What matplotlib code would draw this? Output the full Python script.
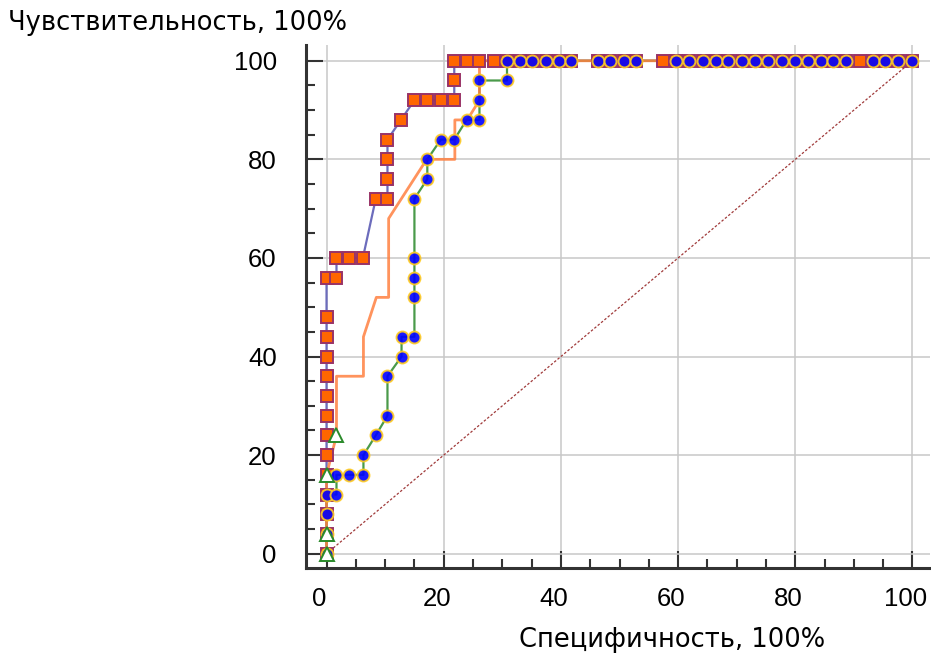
import matplotlib
matplotlib.use("Agg")
import matplotlib.pyplot as plt
from matplotlib.ticker import MultipleLocator
from matplotlib.transforms import ScaledTranslation

plt.rcParams['font.family'] = ['Liberation Sans', 'DejaVu Sans']

# ---- data (specificity, sensitivity; %) ----
# Series A: orange squares, slate-blue line
a_spec = [0, 0, 0, 0, 0, 0, 0, 0, 0, 0, 0, 0, 0, 0, 1.7, 1.7, 3.9, 6.2, 8.4, 10.4,
          10.4, 10.4, 10.4, 12.7, 15.0, 17.2, 19.5, 21.8, 21.8,
          21.8, 23.9, 26.1, 28.5, 30.8, 33.0, 35.1, 37.4, 39.7, 41.8, 46.3, 48.4,
          50.7, 52.8, 57.4, 59.7, 61.9, 64.2, 66.5, 68.6, 70.9, 73.2, 75.3, 77.7,
          80.0, 82.2, 84.4, 86.4, 88.7, 91.0, 93.2, 95.3, 97.6, 100.0]
a_sens = [0, 4, 8, 12, 16, 20, 24, 28, 32, 36, 40, 44, 48, 56, 56, 60, 60, 60, 72, 72,
          76, 80, 84, 88, 92, 92, 92, 92, 96,
          100, 100, 100, 100, 100, 100, 100, 100, 100, 100, 100, 100,
          100, 100, 100, 100, 100, 100, 100, 100, 100, 100, 100, 100,
          100, 100, 100, 100, 100, 100, 100, 100, 100, 100]

# Series B: orange line
b_spec = [0, 0, 1.7, 1.7, 6.3, 6.3, 8.5, 10.6, 10.6, 17.1, 21.9, 21.9, 24.0, 26.1, 26.1, 100.0]
b_sens = [0, 16, 24, 36, 36, 44, 52, 52, 68, 80, 80, 88, 88, 92, 100, 100]

# Series C: blue circles, green line
c_spec = [0, 0, 0, 0, 1.7, 1.7, 3.9, 6.3, 6.3, 8.4, 10.4, 10.4, 12.8, 12.8, 15.0,
          15.0, 15.0, 15.0, 15.0, 17.2, 17.2, 19.5, 21.8, 23.9, 26.1, 26.1, 26.1,
          30.8, 30.8, 33.0, 35.1, 37.4, 39.7, 41.8, 46.3, 48.4, 50.7, 52.8, 59.7,
          61.9, 64.2, 66.5, 68.6, 70.9, 73.2, 75.3, 77.7, 80.0, 82.2, 84.4, 86.4,
          88.7, 93.2, 95.3, 97.6, 100.0]
c_sens = [0, 4, 8, 12, 12, 16, 16, 16, 20, 24, 28, 36, 40, 44, 44,
          52, 56, 60, 72, 76, 80, 84, 84, 88, 88, 92, 96,
          96, 100, 100, 100, 100, 100, 100, 100, 100, 100, 100, 100,
          100, 100, 100, 100, 100, 100, 100, 100, 100, 100, 100, 100,
          100, 100, 100, 100, 100]

# Series D: hollow green triangles
d_spec = [0, 0, 0, 1.7]
d_sens = [0, 4, 16, 24]

# Reference diagonal
ref_spec = [0, 100]
ref_sens = [0, 100]

x_ticks = [0, 20, 40, 60, 80, 100]
y_ticks = [0, 20, 40, 60, 80, 100]
x_label = "Специфичность, 100%"
y_label = "Чувствительность, 100%"

# ---- figure ----
fig = plt.figure(figsize=(9.31, 6.57), dpi=100)
ax = fig.add_axes([0.3287, 0.1355, 0.6703, 0.796])
ax.set_xlim(-3.5, 103)
ax.set_ylim(-2.9, 103.2)

ax.grid(True, which='major', color='#c8c8c8', lw=1.1, zorder=0)
ax.set_axisbelow(True)

ax.plot(ref_spec, ref_sens, color='#a03a3a', lw=0.9, ls=(0, (2, 1.5)), zorder=2)
ax.plot(a_spec, a_sens, color='#6c6cbc', lw=1.6, zorder=3)
ax.plot(c_spec, c_sens, color='#4a9a4a', lw=1.6, zorder=3)
ax.plot(b_spec, b_sens, color='#ff8040', lw=2.0, alpha=0.85, zorder=3)

ax.plot(a_spec, a_sens, ls='none', marker='s', ms=9.2, mfc='#ff6600',
        mec='#993366', mew=1.4, zorder=4)
ax.plot(c_spec, c_sens, ls='none', marker='o', ms=8.6, mfc='#0000ff',
        mec='#ffcc22', mew=1.4, alpha=0.9, zorder=5)
ax.plot(d_spec, d_sens, ls='none', marker='^', ms=10, mfc='white',
        mec='#2a8a2a', mew=1.4, zorder=6)

for side in ('top', 'right'):
    ax.spines[side].set_visible(False)
for side in ('left', 'bottom'):
    ax.spines[side].set_color('#333333')
    ax.spines[side].set_linewidth(2.2)

ax.set_xticks(x_ticks)
ax.set_yticks(y_ticks)
ax.xaxis.set_minor_locator(MultipleLocator(5))
ax.yaxis.set_minor_locator(MultipleLocator(5))
ax.tick_params(which='major', direction='in', length=12.5, width=1.5,
               color='#333333', labelsize=18.5)
ax.tick_params(which='minor', direction='in', length=6.5, width=1.5, color='#333333')
ax.tick_params(axis='y', which='major', pad=21)
ax.tick_params(axis='x', which='major', pad=14)

shift = ScaledTranslation(-0.07, 0, fig.dpi_scale_trans)
for lbl in ax.get_xticklabels():
    lbl.set_transform(lbl.get_transform() + shift)

fig.text(8 / 931, 1 - 23 / 657, y_label, fontsize=18.5, ha='left', va='center',
         family=['DejaVu Sans'])
fig.text(672 / 931, 1 - 640 / 657, x_label, fontsize=18.5, ha='center', va='center',
         family=['DejaVu Sans'])

fig.savefig('out.png', dpi=100)
